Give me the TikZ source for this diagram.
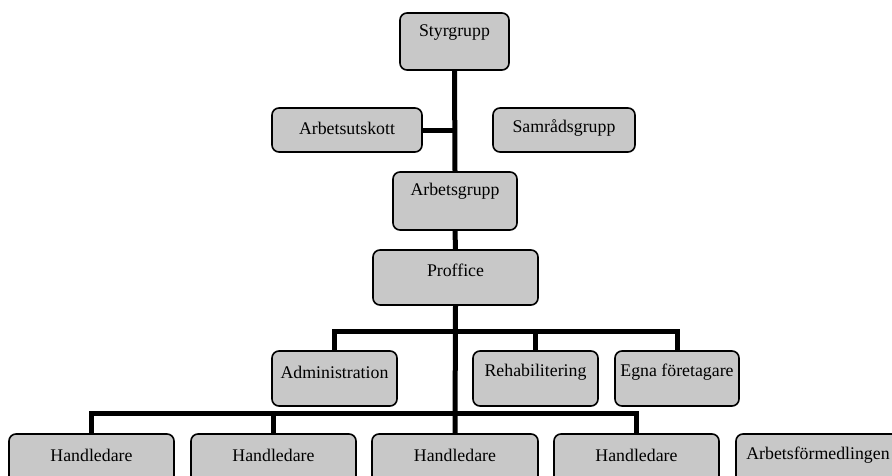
\documentclass[tikz,border=0pt]{standalone}
\usepackage{fontspec}
\setmainfont{Liberation Serif}
\usetikzlibrary{fit,backgrounds}
\definecolor{boxgray}{RGB}{200,200,200}
\tikzset{
  box/.style={draw=black, line width=1.6pt, fill=boxgray, rounded corners=7pt, inner sep=0pt},
  lbl/.style={font=\fontsize{17.8}{20}\selectfont, inner sep=0pt},
  conn/.style={draw=black, line width=5pt, line join=miter, line cap=butt}
}
\begin{document}
\begin{tikzpicture}[x=1pt,y=-1pt]
\useasboundingbox (0,0) rectangle (892,475);
\clip (0,0) rectangle (892,475);
% boxes
\node[box, fit={(400,13) (509,70)}] (sty) {};
\node[box, fit={(272,108) (422,152)}] (aut) {};
\node[box, fit={(493,108) (635,152)}] (sam) {};
\node[box, fit={(393,172) (517,230)}] (arb) {};
\node[box, fit={(373,250) (538,305)}] (pro) {};
\node[box, fit={(272,351) (397,406)}] (adm) {};
\node[box, fit={(473,351) (598,406)}] (reh) {};
\node[box, fit={(615,351) (739,406)}] (egn) {};
\node[box, fit={(9,434) (174,492)}] (h1) {};
\node[box, fit={(191,434) (356,492)}] (h2) {};
\node[box, fit={(372,434) (538,492)}] (h3) {};
\node[box, fit={(554,434) (719,492)}] (h4) {};
\node[box, fit={(736,434) (900,492)}] (af) {};
% labels
\node[lbl] (tsty) at ([yshift=-20pt]sty.north) {Styrgrupp};
\node[lbl] (taut) at ([yshift=-21pt]aut.north) {Arbetsutskott};
\node[lbl] (tsam) at ([yshift=-21pt]sam.north) {Samrådsgrupp};
\node[lbl] (tarb) at ([yshift=-20pt]arb.north) {Arbetsgrupp};
\node[lbl] (tpro) at ([yshift=-21pt]pro.north) {Proffice};
\node[lbl] (tadm) at ([yshift=-22pt]adm.north) {Administration};
\node[lbl] (treh) at ([yshift=-22pt]reh.north) {Rehabilitering};
\node[lbl] (tegn) at ([yshift=-22pt]egn.north) {Egna företagare};
\node[lbl] (th1) at ([yshift=-22pt]h1.north) {Handledare};
\node[lbl] (th2) at ([yshift=-22pt]h2.north) {Handledare};
\node[lbl] (th3) at ([yshift=-22pt]h3.north) {Handledare};
\node[lbl] (th4) at ([yshift=-22pt]h4.north) {Handledare};
\node[lbl] (taf) at ([yshift=-22pt]af.north) {Arbetsförmedlingen};
% connectors
\coordinate (bus1) at (0,331);
\coordinate (bus2) at (0,413);
\begin{scope}[on background layer]
\draw[conn] (sty.south) -- (arb.north);
\draw[conn] (aut.east) -- (aut.east -| sty.south);
\draw[conn] (arb.south) -- (pro.north);
\draw[conn] (pro.south) -- (h3.north);
\draw[conn] (adm.north) -- (adm.north |- bus1) -- (egn.north |- bus1) -- (egn.north);
\draw[conn] (reh.north) -- (reh.north |- bus1);
\draw[conn] (h1.north) -- (h1.north |- bus2) -- (h4.north |- bus2) -- (h4.north);
\draw[conn] (h2.north) -- (h2.north |- bus2);
\end{scope}
\end{tikzpicture}
\end{document}
